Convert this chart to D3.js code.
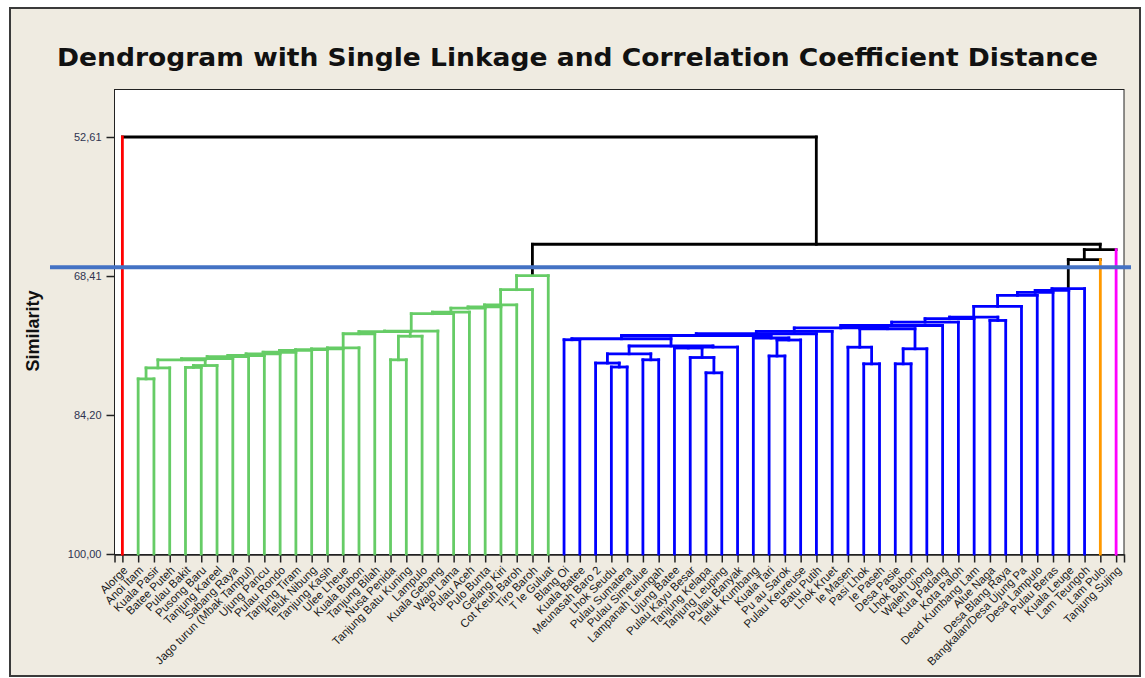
<!DOCTYPE html>
<html><head><meta charset="utf-8">
<script src="https://cdn.jsdelivr.net/npm/d3@7"></script>
<style>body{margin:0;background:#fff}svg{display:block}</style>
</head><body><svg id="c" width="1145" height="678"></svg>
<script>
// ---- data ----
const leaves = [
 "Alorge",
 "Anoi Itam","Kuala Pasir","Batee Puteh","Pulau Bakit","Pusong Baru","Tanjung Kareel","Sabang Raya",
 "Jago turun (Mbak Tampul)","Ujung Pancu","Pulau Rondo","Tanjung Tiram","Teluk Nibung","Tanjung Kasih",
 "Ulee Lheue","Kuala Bubon","Tanjung Bilah","Nusa Penida","Tanjung Batu Kuning","Lampulo","Kuala Gebang",
 "Wajo Lama","Pulau Aceh","Pulo Bunta","Gelang Kiri","Cot Keuh Baroh","Tiro Baroh","T Ie Guluat",
 "Blang Oi","Kuala Batee","Meunasah Baro 2","Lhok Seudu","Pulau Sumatera","Pulau Simeulue","Lampanah Leungah",
 "Ujung Batee","Pulau Kayu Besar","Tanjung Kelapa","Tanjung Leuping","Pulau Banyak","Teluk Kumbang","Kuala Tari",
 "Pu au Sarok","Pulau Keureuse","Batu Putih","Lhok Kruet","Ie Masen","Pasi Lhok","Ie Paseh","Desa Pasie",
 "Lhok Bubon","Waleh Ujong","Kuta Padang","Kota Paloh","Dead Kumbang Lam","Alue Naga","Desa Blang Raya",
 "Bangkalan/Desa Ujung Pa","Desa Lampulo","Pulau Beras","Kuala Leuge","Lam Teungoh","Lam Pulo","Tanjung Sujing"
];
// merges: [left id, right id, similarity]; ids < 64 are leaves, id 64+k is merge k
const merges = [
 [1,2,80.10],[64,3,78.85],[4,5,78.80],[66,6,78.58],[65,67,77.93],[68,7,77.80],[69,8,77.56],[70,9,77.44],
 [71,10,77.25],[72,11,77.07],[73,12,76.87],[74,13,76.78],[75,14,76.68],[76,15,76.57],[77,16,74.97],
 [17,18,77.93],[79,19,75.25],[78,80,74.72],[81,20,74.66],[82,21,72.69],[83,22,72.51],[84,23,72.06],
 [85,24,71.92],[86,25,71.69],[87,26,69.96],[88,27,68.36],
 [28,29,75.65],[31,32,78.75],[30,91,78.30],[33,34,77.93],[92,93,77.25],[37,38,79.41],[36,95,77.67],
 [35,96,76.59],[97,39,76.48],[94,98,76.36],[90,99,75.54],[41,42,77.50],[101,43,75.68],[40,102,75.45],
 [100,103,75.17],[104,44,74.97],[47,48,78.39],[46,106,76.50],[49,50,78.39],[108,51,76.68],[107,109,74.40],
 [105,45,74.71],[111,110,74.31],[112,52,74.03],[113,53,73.65],[114,54,73.26],[55,56,73.46],[115,116,73.08],
 [117,57,71.86],[118,58,70.61],[119,59,70.27],[120,60,70.04],[121,61,69.85],
 [122,62,66.54],[123,63,65.40],[89,124,64.80],[0,125,52.61]
];
const yTicks = [52.61, 68.41, 84.20, 100.00];
const cutLevel = 67.42;
const clusterColors = ["#FF0000","#66CC66","#0000FF","#FF9900","#FF00FF"];
const titleText = "Dendrogram with Single Linkage and Correlation Coefficient Distance";
const yLabel = "Similarity";

// ---- layout ----
const svg = d3.select("#c");
svg.append("rect").attr("x",10).attr("y",8).attr("width",1130).attr("height",668)
  .attr("fill","#EFEBE1").attr("stroke","#3a3a3a").attr("stroke-width",2);
svg.append("rect").attr("x",114.5).attr("y",89.5).attr("width",1009.5).attr("height",465)
  .attr("fill","#fff").attr("stroke","#222").attr("stroke-width",1);

const x = d3.scalePoint().domain(d3.range(leaves.length)).range([114.5,1124]).padding(0.5);
const y = d3.scaleLinear().domain([100,52.61]).range([554,137]);

// title
svg.append("text").attr("x",57).attr("y",66)
  .attr("font-family","DejaVu Sans").attr("font-weight","bold").attr("font-size",24)
  .attr("fill","#111").attr("textLength",1041).attr("lengthAdjust","spacingAndGlyphs")
  .text(titleText);

// y label
svg.append("text").attr("transform","translate(39,331) rotate(-90)")
  .attr("text-anchor","middle").attr("font-family","Liberation Sans, Arial").attr("font-weight","bold")
  .attr("font-size",18).attr("fill","#111").text(yLabel);

// y axis
const ya = svg.append("g").attr("transform","translate(114.5,0)")
  .call(d3.axisLeft(y).tickValues(yTicks).tickSize(8).tickPadding(5)
    .tickFormat(d=>d.toFixed(2).replace(".",",")));
ya.select(".domain").remove();
ya.selectAll("line").attr("stroke","#222").attr("stroke-width",1.5);
ya.selectAll("text").attr("font-family","Liberation Sans, Arial").attr("font-size",11).attr("fill","#2e3350");

// x axis
const xa = svg.append("g").attr("transform","translate(0,554.5)")
  .call(d3.axisBottom(x).tickSize(8).tickFormat(""));
xa.select(".domain").attr("stroke","#222").attr("stroke-width",1.5);
xa.selectAll("line").attr("stroke","#222").attr("stroke-width",1.5);

// leaf labels
svg.append("g").selectAll("text").data(leaves).join("text")
  .attr("transform",(d,i)=>`translate(${x(i)+3},${568}) rotate(-45)`)
  .attr("text-anchor","end").attr("dy","0.35em")
  .attr("font-family","Liberation Sans, Arial").attr("font-size",11.5).attr("fill","#1a1a1a")
  .text(d=>d);

// ---- tree ----
const n = leaves.length;
const nodes = leaves.map((nm,i)=>({id:i,x:x(i),sim:100,leaf:true}));
merges.forEach(([a,b,s],k)=>{
  nodes.push({id:n+k,x:(nodes[a].x+nodes[b].x)/2,sim:s,children:[a,b]});
});
let cc = 0;
function mark(id,c){nodes[id].cluster=c; if(nodes[id].children) nodes[id].children.forEach(ch=>mark(ch,c));}
function assign(id){const nd=nodes[id]; if(nd.leaf||nd.sim>=cutLevel) mark(id,cc++); else nd.children.forEach(assign);}
assign(nodes.length-1);

const segs = [];
nodes.forEach(nd=>{
  if(!nd.children) return;
  const col = nd.cluster!=null ? clusterColors[nd.cluster] : "#000";
  const [a,b] = nd.children.map(i=>nodes[i]);
  segs.push({x1:a.x,x2:b.x,y1:y(nd.sim),y2:y(nd.sim),c:col});
  [a,b].forEach(ch=>{
    const vc = nd.cluster!=null ? col : (ch.leaf ? clusterColors[ch.cluster] : "#000");
    segs.push({x1:ch.x,x2:ch.x,y1:y(ch.sim),y2:y(nd.sim),c:vc});
  });
});
segs.sort((p,q)=>(p.c==="#000"?0:1)-(q.c==="#000"?0:1));
svg.append("g").selectAll("line").data(segs).join("line")
  .attr("x1",d=>d.x1).attr("x2",d=>d.x2).attr("y1",d=>d.y1).attr("y2",d=>d.y2)
  .attr("stroke",d=>d.c).attr("stroke-width",2.8).attr("stroke-linecap","square");

// cut line
svg.append("line").attr("x1",50).attr("x2",1131).attr("y1",y(cutLevel)).attr("y2",y(cutLevel))
  .attr("stroke","#4472C4").attr("stroke-width",4);
</script></body></html>
